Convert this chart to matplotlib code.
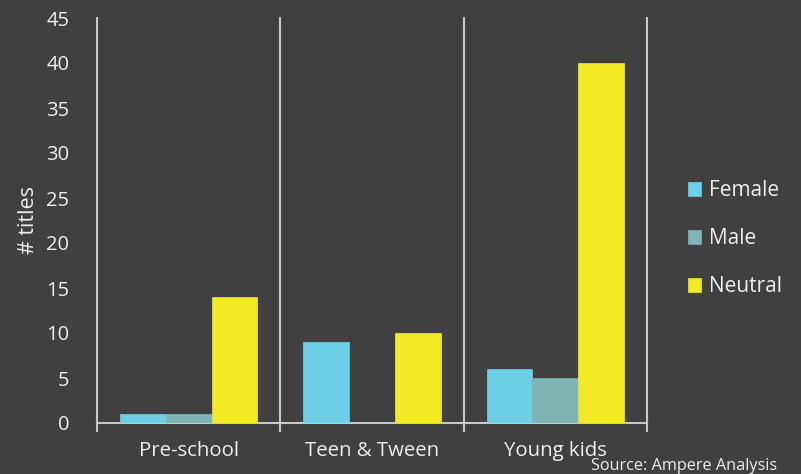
import matplotlib
matplotlib.use("Agg")
import matplotlib.pyplot as plt
import numpy as np

categories = ["Pre-school", "Teen & Tween", "Young kids"]
series_names = ["Female", "Male", "Neutral"]
female = [1, 9, 6]
male = [1, 0, 5]
neutral = [14, 10, 40]
y_ticks = [0, 5, 10, 15, 20, 25, 30, 35, 40, 45]

BG = "#404040"
TXT = "#EEEEEE"
LINE = "#C8C8C8"
colors = ["#6ECFE8", "#80B5B6", "#F2EA25"]

plt.rcParams['font.family'] = ['Open Sans', 'DejaVu Sans']

fig = plt.figure(figsize=(8.01, 4.74), dpi=100, facecolor=BG)
ax = fig.add_axes([97/801, 1 - 423/474, (647-97)/801, (423-18)/474])
ax.set_facecolor(BG)

x = np.arange(len(categories))
w = 0.25
for i, (vals, name) in enumerate(zip([female, male, neutral], series_names)):
    ax.bar(x + (i - 1) * w, vals, width=w, color=colors[i], label=name,
           edgecolor=colors[i], linewidth=0.5, zorder=3)

ax.set_xlim(-0.5, len(categories) - 0.5)
ax.set_ylim(0, 45)
ax.set_yticks(y_ticks)
ax.set_yticklabels([str(t) for t in y_ticks], color=TXT, fontsize=14.5)
ax.tick_params(axis='y', length=0, pad=20)
ax.set_xticks(x)
ax.set_xticklabels(categories, color=TXT, fontsize=14.7)
ax.tick_params(axis='x', length=0, pad=13)

# category separators
for b in np.arange(-0.5, len(categories), 1.0):
    ax.plot([b, b], [-0.9, 45], color=LINE, lw=1.5, clip_on=False, zorder=2)

for s in ['top', 'right', 'left']:
    ax.spines[s].set_visible(False)
ax.spines['bottom'].set_color(LINE)
ax.spines['bottom'].set_linewidth(1.5)

ax.set_ylabel("# titles", color=TXT, fontsize=15.5)
ax.yaxis.set_label_coords(-0.105, 0.5)

leg = ax.legend(loc='center left', bbox_to_anchor=(1.06, 0.455), frameon=False,
                fontsize=15, labelcolor=TXT, handlelength=0.62, handleheight=0.62,
                handletextpad=0.35, labelspacing=1.3, borderaxespad=0)

fig.text(777/801, 1 - 474/474, "Source: Ampere Analysis", color=TXT, fontsize=11.7,
         ha='right', va='bottom')

fig.savefig("out.png", dpi=100, facecolor=BG)
